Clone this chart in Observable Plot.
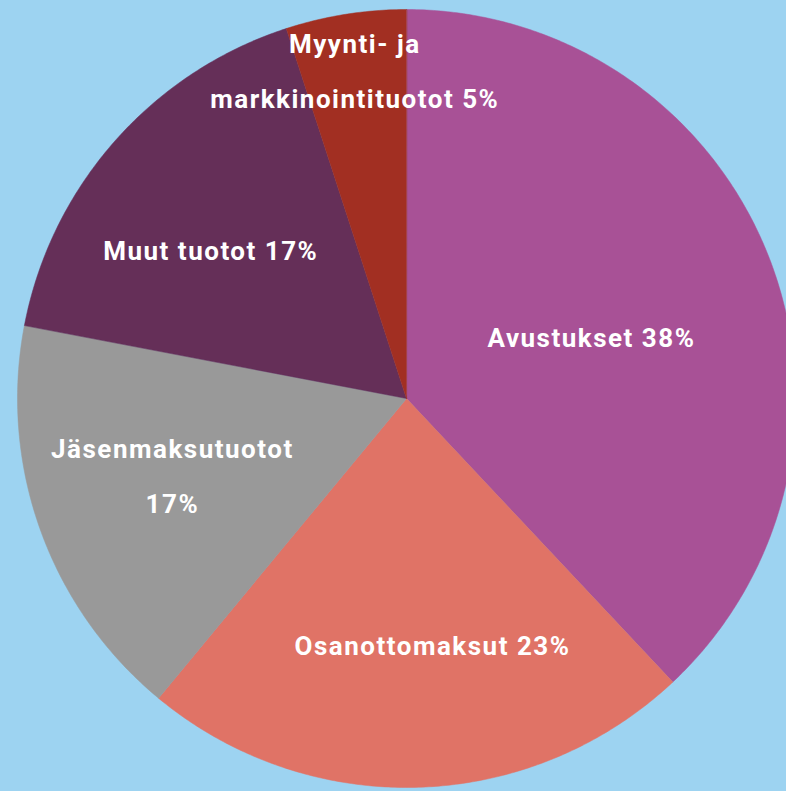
<!DOCTYPE html>
<html>
<head>
<meta charset="utf-8">
<script src="https://cdn.jsdelivr.net/npm/d3@7"></script>
<script src="https://cdn.jsdelivr.net/npm/@observablehq/plot@0.6"></script>
<style>
  html, body { margin: 0; padding: 0; background: #9dd3f1; overflow: hidden; }
  #chart svg { display: block; }
  #chart text { letter-spacing: 1.5px; }
</style>
</head>
<body>
<div id="chart"></div>
<script>
// ---- data ----
const categories = ["Avustukset", "Osanottomaksut", "Jäsenmaksutuotot", "Muut tuotot", "Myynti- ja markkinointituotot"];
const shares = [38, 23, 17, 17, 5];
const labels = ["Avustukset 38%", "Osanottomaksut 23%", "Jäsenmaksutuotot\n17%", "Muut tuotot 17%", "Myynti- ja\nmarkkinointituotot 5%"];

// ---- style ----
const colors = ["#a85196", "#e07366", "#999999", "#652f58", "#a22f22"];
const W = 786, H = 791;
const cx = 406, cy = 398, R = 389;
// label placement (radius fraction, angle in degrees clockwise from top)
const labelPlace = [
  {r: 0.50, a: 72},
  {r: 0.64, a: 174},
  {r: 0.635, a: 251.4},
  {r: 0.63, a: 307},
  {r: 0.85, a: 351}
];

const table = categories.map((c, i) => ({category: c, value: shares[i], label: labels[i]}));
const arcs = d3.pie().sort(null).value(d => d.value)(table);

// polygon outline of every slice in unit-circle coordinates
const poly = [];
arcs.forEach(a => {
  poly.push({category: a.data.category, x: 0, y: 0});
  const n = Math.max(2, Math.ceil((a.endAngle - a.startAngle) / (Math.PI / 360)));
  for (let k = 0; k <= n; k++) {
    const t = a.startAngle + (a.endAngle - a.startAngle) * k / n;
    poly.push({category: a.data.category, x: Math.sin(t), y: Math.cos(t)});
  }
});

const labelPts = arcs.map((a, i) => {
  const t = labelPlace[i].a * Math.PI / 180;
  return {label: a.data.label, x: labelPlace[i].r * Math.sin(t), y: labelPlace[i].r * Math.cos(t)};
});

const chart = Plot.plot({
  width: W,
  height: H,
  margin: 0,
  style: {background: "#9dd3f1", overflow: "hidden"},
  x: {domain: [-1, 1], range: [cx - R, cx + R], axis: null},
  y: {domain: [-1, 1], range: [cy + R, cy - R], axis: null},
  color: {domain: categories, range: colors},
  marks: [
    Plot.line(poly, {x: "x", y: "y", z: "category", fill: "category", stroke: "category", strokeWidth: 0.5, curve: "linear-closed"}),
    Plot.text(labelPts, {
      x: "x", y: "y", text: "label", dy: -9,
      fill: "white", fontSize: 26, fontWeight: 700,
      fontFamily: "Roboto, 'Open Sans', sans-serif",
      lineHeight: 2.12, textAnchor: "middle"
    })
  ]
});
document.getElementById("chart").append(chart);
</script>
</body>
</html>
